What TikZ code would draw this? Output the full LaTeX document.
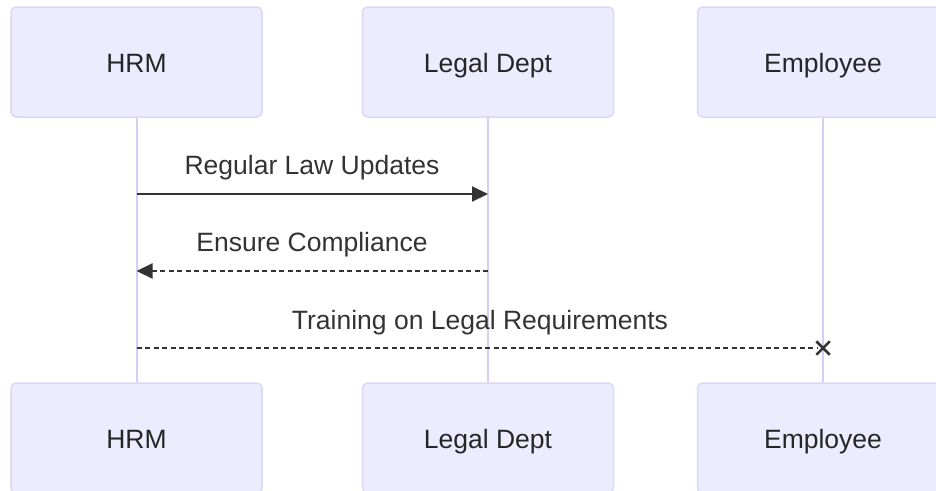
\documentclass[tikz,border=0pt]{standalone}
\usepackage{fontspec}
\setmainfont{Liberation Sans}
\usetikzlibrary{arrows.meta,shapes.misc}
\definecolor{actorfill}{HTML}{ECECFF}
\definecolor{actorline}{HTML}{DDD6F6}
\definecolor{lifeline}{HTML}{D9CCF4}
\definecolor{msgline}{HTML}{333333}
\tikzset{
  actor/.style={draw=actorline, line width=1.5pt, fill=actorfill, rounded corners=5pt,
    minimum width=251pt, minimum height=110pt, inner sep=0pt,
    text height=20pt, text depth=0pt,
    font=\fontsize{26.5}{30}\selectfont, text=black!85},
  life/.style={draw=lifeline, line width=2pt},
  msg/.style={draw=msgline, line width=2pt},
  dashmsg/.style={msg, dash pattern=on 5pt off 3.5pt},
  msglabel/.style={anchor=base, font=\fontsize{26.5}{30}\selectfont, text=msgline, inner sep=0pt},
  solidtip/.style={-{Triangle[length=16pt,width=15pt]}},
  xmark/.style={cross out, draw=msgline, line width=2.5pt, minimum size=11pt, inner sep=0pt}
}
\begin{document}
\begin{tikzpicture}[x=1pt,y=-1pt]
  \useasboundingbox (0,0) rectangle (936,490);
  \clip (0,0) rectangle (936,490);
  % participants, top and bottom
  \node[actor] (hrmT) at (136.5,62) {HRM};
  \node[actor] (legT) at (488,62) {Legal Dept};
  \node[actor] (empT) at (823,62) {Employee};
  \node[actor] (hrmB) at (136.5,438) {HRM};
  \node[actor] (legB) at (488,438) {Legal Dept};
  \node[actor] (empB) at (823,438) {Employee};
  % lifelines
  \draw[life] (hrmT.south) -- (hrmB.north);
  \draw[life] (legT.south) -- (legB.north);
  \draw[life] (empT.south) -- (empB.north);
  % message anchor points on the lifelines
  \coordinate (h1) at (136.5,194);
  \coordinate (l1) at (488,194);
  \coordinate (h2) at (136.5,271);
  \coordinate (l2) at (488,271);
  \coordinate (h3) at (136.5,348);
  \coordinate (e3) at (823,348);
  % messages
  \draw[msg, solidtip] (h1) -- (l1);
  \node[msglabel] (m1) at (312,174) {Regular Law Updates};
  \draw[dashmsg, solidtip] (l2) -- (h2);
  \node[msglabel] (m2) at (312,251) {Ensure Compliance};
  \draw[dashmsg] (h3) -- ([xshift=-5pt]e3);
  \node[xmark] (x3) at (e3) {};
  \node[msglabel] (m3) at (480,329) {Training on Legal Requirements};
\end{tikzpicture}
\end{document}
